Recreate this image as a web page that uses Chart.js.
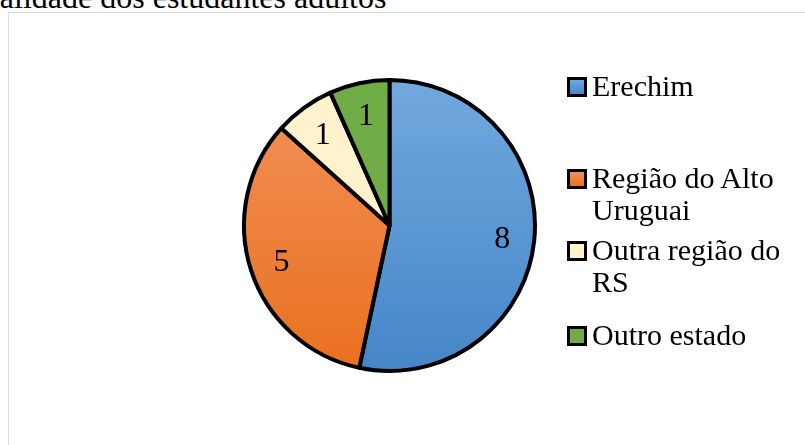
<!DOCTYPE html>
<html lang="pt-BR">
<head>
<meta charset="utf-8">
<script src="https://cdn.jsdelivr.net/npm/chart.js@4/dist/chart.umd.min.js"></script>
<style>
  html, body { margin: 0; padding: 0; background: #fff; }
  body { width: 805px; height: 445px; position: relative; overflow: hidden;
         font-family: "Liberation Serif", "Times New Roman", serif; color: #000; }
  #titulo { position: absolute; left: -73px; top: -19px; font-size: 32px; line-height: 32px; white-space: nowrap; }
  #moldura { position: absolute; left: 8px; top: 12px; right: -10px; bottom: -10px; border: 1px solid #d9dde3; }
  #grafico { position: absolute; left: 0; top: 0; width: 805px; height: 445px; }
  .item { position: absolute; left: 567px; width: 240px; font-size: 30px; line-height: 32px; }
  .item .caixa { position: absolute; left: 0; top: 7px; width: 14px; height: 14px; border: 3px solid #000; }
  .item .texto { margin-left: 25px; width: 205px; }
</style>
</head>
<body>
<div id="titulo">Naturalidade dos estudantes adultos</div>
<div id="moldura"></div>
<canvas id="grafico" width="805" height="445"></canvas>
<div id="legenda"></div>
<script>
const categorias = ['Erechim', 'Região do Alto Uruguai', 'Outra região do RS', 'Outro estado'];
const quantidades = [8, 5, 1, 1];

// cores de cada fatia: topo e base do degradê
const corTopo = ['#72a8de', '#f2925c', '#fff2cc', '#70ad47'];
const corBase = ['#4586c8', '#e9701e', '#fff2cc', '#70ad47'];
const topoLegenda = [70, 162, 234, 319];

function degrade(ctx) {
  const i = ctx.dataIndex;
  const area = ctx.chart.chartArea;
  if (!area) return corBase[i];
  const g = ctx.chart.ctx.createLinearGradient(0, area.top, 0, area.bottom);
  g.addColorStop(0, corTopo[i]);
  g.addColorStop(1, corBase[i]);
  return g;
}

// rótulos com o valor dentro de cada fatia
const rotulos = {
  id: 'rotulos',
  afterDatasetsDraw(chart) {
    const c = chart.ctx;
    const meta = chart.getDatasetMeta(0);
    c.save();
    c.font = '32px "Liberation Serif", "Times New Roman", serif';
    c.fillStyle = '#000';
    c.textAlign = 'center';
    c.textBaseline = 'middle';
    meta.data.forEach((arc, i) => {
      const p = arc.getProps(['x', 'y', 'startAngle', 'endAngle', 'outerRadius'], true);
      const meio = (p.startAngle + p.endAngle) / 2;
      const r = p.outerRadius * 0.78;
      c.fillText(String(quantidades[i]), p.x + Math.cos(meio) * r, p.y + Math.sin(meio) * r + 2);
    });
    c.restore();
  }
};

new Chart(document.getElementById('grafico'), {
  type: 'pie',
  data: {
    labels: categorias,
    datasets: [{
      data: quantidades,
      backgroundColor: degrade,
      borderColor: '#000',
      borderWidth: 4,
      hoverOffset: 0,
      offset: 0
    }]
  },
  options: {
    responsive: false,
    animation: false,
    events: [],
    layout: { padding: { left: 242, top: 78, right: 268, bottom: 72 } },
    plugins: { legend: { display: false }, tooltip: { enabled: false } }
  },
  plugins: [rotulos]
});

// legenda à direita, com quebra de linha natural
const legenda = document.getElementById('legenda');
categorias.forEach((nome, i) => {
  const item = document.createElement('div');
  item.className = 'item';
  item.style.top = topoLegenda[i] + 'px';
  const caixa = document.createElement('span');
  caixa.className = 'caixa';
  caixa.style.background = `linear-gradient(${corTopo[i]}, ${corBase[i]})`;
  const texto = document.createElement('div');
  texto.className = 'texto';
  texto.textContent = nome;
  item.appendChild(caixa);
  item.appendChild(texto);
  legenda.appendChild(item);
});
</script>
</body>
</html>
